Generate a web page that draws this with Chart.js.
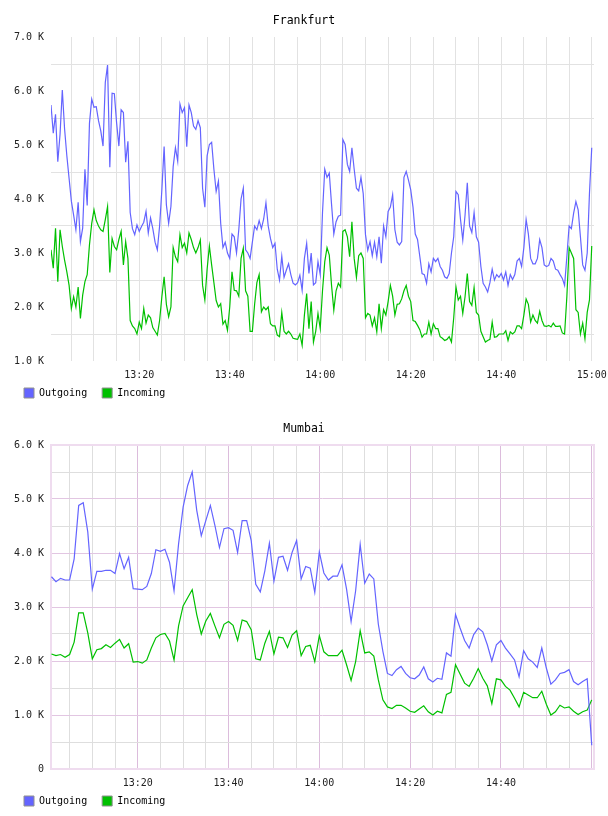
<!DOCTYPE html>
<html><head><meta charset="utf-8">
<script src="https://cdn.jsdelivr.net/npm/chart.js@4.4.1/dist/chart.umd.min.js"></script>
<style>
html,body{margin:0;padding:0;background:#fff;overflow:hidden;width:608px;height:816px;}
.box{position:absolute;left:0;width:608px;height:408px;}
</style></head><body>
<div class="box" style="top:0"><canvas id="fra"></canvas></div>
<div class="box" style="top:408px"><canvas id="mum"></canvas></div>
<script>
// ---- Frankfurt: samples every 30 s starting 13:00:30 (values in K) ----
const fraStartMin = 0.5;   // minutes after 13:00
const fraStepMin = 0.5;
const fraOutgoing = [
5.74,5.22,5.57,4.69,5.2,6.02,5.3,4.8,4.38,3.96,
3.7,3.43,3.94,3.21,3.46,4.55,3.88,5.4,5.85,5.7,
5.71,5.45,5.26,4.98,6.16,6.48,4.59,5.96,5.95,5.41,
4.98,5.65,5.6,4.68,5.07,3.75,3.45,3.34,3.52,3.4,
3.49,3.57,3.77,3.37,3.65,3.45,3.2,3.06,3.5,4.17,
4.97,3.89,3.55,3.86,4.6,4.95,4.7,5.76,5.6,5.69,
4.97,5.74,5.6,5.35,5.29,5.45,5.32,4.2,3.85,4.8,
5.01,5.05,4.55,4.14,4.33,3.55,3.1,3.2,3.0,2.9,
3.35,3.3,3.0,3.43,4.0,4.2,3.06,3.0,2.9,3.2,
3.5,3.43,3.6,3.45,3.63,3.93,3.5,3.27,3.1,3.18,
2.7,2.5,2.94,2.55,2.68,2.8,2.6,2.44,2.41,2.45,
2.59,2.31,2.9,3.18,2.62,3.0,2.41,2.45,2.84,2.6,
3.75,4.55,4.4,4.48,3.9,3.35,3.58,3.68,3.7,5.1,
5.01,4.64,4.51,4.95,4.55,4.2,4.15,4.4,4.1,3.34,
3.05,3.21,2.95,3.2,2.93,3.3,2.81,3.5,3.3,3.77,
3.85,4.08,3.43,3.2,3.15,3.21,4.4,4.51,4.35,4.17,
3.85,3.35,3.25,2.94,2.62,2.6,2.44,2.8,2.65,2.9,
2.84,2.9,2.75,2.68,2.56,2.53,2.62,3.0,3.3,4.14,
4.08,3.62,3.24,3.7,4.3,3.5,3.38,3.75,3.3,3.2,
2.75,2.44,2.37,2.28,2.45,2.7,2.5,2.6,2.55,2.62,
2.5,2.65,2.4,2.6,2.51,2.6,2.85,2.9,2.75,3.1,
3.62,3.35,2.9,2.8,2.8,2.9,3.25,3.1,2.78,2.75,
2.77,2.9,2.85,2.7,2.68,2.6,2.53,2.4,2.93,3.5,
3.45,3.74,3.95,3.8,3.3,2.78,2.68,3.0,4.11,4.95
];
const fraIncoming = [
3.06,2.72,3.46,2.47,3.43,3.12,2.87,2.65,2.4,1.97,
2.19,2.0,2.37,1.79,2.22,2.47,2.6,3.15,3.55,3.8,
3.6,3.5,3.43,3.4,3.62,3.86,2.64,3.27,3.12,3.06,
3.25,3.4,2.78,3.21,2.9,1.75,1.65,1.6,1.5,1.72,
1.6,1.97,1.7,1.85,1.8,1.62,1.55,1.48,1.75,2.19,
2.56,2.05,1.82,2.0,3.1,2.93,2.84,3.34,3.1,3.18,
3.0,3.37,3.25,3.1,3.0,3.1,3.24,2.4,2.13,2.7,
3.13,2.78,2.45,2.12,2.0,2.06,1.68,1.75,1.57,2.0,
2.65,2.31,2.3,2.2,2.9,3.09,2.3,2.2,1.55,1.55,
2.05,2.45,2.6,1.91,2.0,1.95,2.0,1.69,1.65,1.65,
1.48,1.45,1.9,1.55,1.5,1.55,1.5,1.42,1.41,1.4,
1.5,1.29,1.85,2.25,1.6,2.1,1.35,1.55,1.88,1.6,
2.3,2.84,3.1,2.96,2.4,1.94,2.3,2.44,2.37,3.4,
3.43,3.3,2.93,3.58,2.9,2.55,2.95,3.0,2.9,1.8,
1.88,1.85,1.65,1.8,1.54,2.06,1.6,1.95,1.85,2.1,
2.4,2.2,1.85,2.05,2.06,2.15,2.3,2.4,2.2,2.1,
1.75,1.73,1.66,1.58,1.44,1.5,1.5,1.72,1.5,1.69,
1.6,1.6,1.45,1.42,1.38,1.4,1.45,1.35,1.8,2.37,
2.13,2.2,1.88,2.19,2.62,2.1,2.03,2.36,1.9,1.85,
1.55,1.45,1.35,1.38,1.4,1.72,1.44,1.45,1.5,1.5,
1.5,1.56,1.38,1.54,1.5,1.54,1.65,1.65,1.6,1.85,
2.15,2.05,1.72,1.85,1.75,1.7,1.92,1.75,1.65,1.64,
1.66,1.63,1.7,1.64,1.64,1.65,1.52,1.5,2.19,3.1,
3.0,2.9,1.95,1.9,1.5,1.7,1.41,1.9,2.13,3.13
];
const fraTimeLabels = ['13:20','13:40','14:00','14:20','14:40','15:00'];

// ---- Mumbai: samples every minute starting 13:01 (values in K) ----
const mumStartMin = 1;
const mumStepMin = 1;
const mumOutgoing = [
3.56,3.47,3.53,3.5,3.5,3.89,4.88,4.93,4.39,3.33,
3.66,3.66,3.68,3.68,3.62,3.99,3.71,3.92,3.34,3.33,
3.32,3.38,3.62,4.06,4.03,4.07,3.83,3.3,4.17,4.85,
5.25,5.5,4.79,4.32,4.6,4.88,4.51,4.1,4.45,4.47,
4.42,4.01,4.6,4.6,4.23,3.42,3.28,3.67,4.18,3.48,
3.92,3.94,3.68,4.01,4.23,3.52,3.75,3.72,3.27,4.02,
3.63,3.5,3.57,3.57,3.78,3.33,2.73,3.3,4.16,3.44,
3.61,3.52,2.68,2.18,1.77,1.73,1.84,1.9,1.77,1.69,
1.67,1.74,1.89,1.67,1.61,1.68,1.66,2.15,2.09,2.86,
2.61,2.38,2.24,2.49,2.61,2.54,2.3,2.0,2.3,2.38,
2.24,2.13,2.02,1.71,2.19,2.04,1.98,1.88,2.24,1.87,
1.57,1.65,1.77,1.79,1.84,1.62,1.56,1.62,1.67,0.44
];
const mumIncoming = [
2.13,2.1,2.12,2.07,2.12,2.35,2.89,2.89,2.52,2.04,
2.21,2.23,2.3,2.25,2.33,2.4,2.24,2.32,1.98,1.99,
1.96,2.02,2.24,2.43,2.49,2.51,2.37,2.02,2.65,3.02,
3.17,3.32,2.86,2.5,2.74,2.88,2.65,2.43,2.68,2.73,
2.66,2.38,2.76,2.73,2.58,2.04,2.02,2.33,2.55,2.13,
2.44,2.43,2.25,2.48,2.56,2.1,2.27,2.29,1.99,2.47,
2.17,2.1,2.1,2.1,2.2,1.93,1.64,1.99,2.56,2.15,
2.17,2.09,1.65,1.28,1.15,1.12,1.18,1.18,1.13,1.07,
1.05,1.11,1.17,1.06,1.0,1.07,1.04,1.38,1.42,1.93,
1.76,1.59,1.53,1.68,1.86,1.68,1.54,1.21,1.67,1.65,
1.53,1.46,1.31,1.15,1.42,1.37,1.32,1.32,1.44,1.2,
1.0,1.06,1.18,1.13,1.15,1.07,1.01,1.06,1.09,1.28
];
const mumTimeLabels = ['13:20','13:40','14:00','14:20','14:40'];

const seriesNames = ['Outgoing', 'Incoming'];
const seriesColors = ['#6464ff', '#00c000'];
const MONO = '"DejaVu Sans Mono", monospace';

function toPoints(vals, start, step) {
  return vals.map((v, i) => ({ x: start + i * step, y: v }));
}

const plotBorder = {
  id: 'plotBorder',
  beforeDatasetsDraw(chart, args, opts) {
    if (!opts.color) return;
    const a = chart.chartArea, c = chart.ctx;
    c.save();
    c.strokeStyle = opts.color;
    c.lineWidth = 2;
    c.strokeRect(a.left, a.top, a.right - a.left, a.bottom - a.top);
    c.restore();
  }
};

function makeChart(id, cfg) {
  const isInt = v => Math.abs(v - Math.round(v)) < 1e-6;
  return new Chart(document.getElementById(id), {
    type: 'line',
    data: {
      datasets: [
        { label: seriesNames[0], data: toPoints(cfg.out, cfg.start, cfg.step),
          borderColor: seriesColors[0], backgroundColor: seriesColors[0],
          borderWidth: 1.2, pointRadius: 0, tension: 0, fill: false },
        { label: seriesNames[1], data: toPoints(cfg.inc, cfg.start, cfg.step),
          borderColor: seriesColors[1], backgroundColor: seriesColors[1],
          borderWidth: 1.2, pointRadius: 0, tension: 0, fill: false }
      ]
    },
    options: {
      responsive: true, maintainAspectRatio: false, animation: false,
      devicePixelRatio: 1,
      layout: { padding: { left: 9, right: 9, top: 0, bottom: 0 } },
      plugins: {
        tooltip: { enabled: false },
        plotBorder: { color: cfg.borderColor },
        title: { display: true, text: cfg.title, color: '#000',
          font: { family: MONO, size: 11.5, weight: 'normal' },
          padding: { top: 14, bottom: 9.2 } },
        legend: { position: 'bottom', align: 'start',
          labels: { boxWidth: 10, boxHeight: 10, padding: 15, color: '#000',
            font: { family: MONO, size: 10 },
            generateLabels: (chart) => chart.data.datasets.map((ds, i) => ({
              text: ds.label, fillStyle: ds.borderColor, strokeStyle: '#909090',
              lineWidth: 1, hidden: false, datasetIndex: i, fontColor: '#000'
            })) } }
      },
      scales: {
        x: { type: 'linear', min: cfg.xMin, max: cfg.xMax,
          afterFit: s => { s.height = 12; s.paddingRight = 14; s.paddingLeft = 0; },
          afterBuildTicks: s => {
            const t = [];
            for (let m = 5; m <= 120; m += 5) t.push({ value: m });
            s.ticks = t;
          },
          border: { display: false },
          grid: { drawTicks: false, lineWidth: 1,
            color: c => cfg.vMajor && c.tick && c.tick.value % 20 === 0 ? cfg.vMajor : cfg.minor },
          ticks: { autoSkip: false, maxRotation: 0, mirror: true, padding: -20, color: '#222',
            font: { family: MONO, size: 10 },
            callback: v => (v % 20 === 0 && cfg.labels[v / 20 - 1]) ? cfg.labels[v / 20 - 1] : '' } },
        y: { min: cfg.yMin, max: cfg.yMax,
          afterFit: s => { s.width = 42; },
          border: { display: false },
          grid: { drawTicks: false, lineWidth: 1,
            color: c => isInt(c.tick.value) ? cfg.hMajor : cfg.minor },
          ticks: { stepSize: 0.5, autoSkip: false, padding: 7, color: '#222',
            font: { family: MONO, size: 10 },
            callback: v => isInt(v) ? (v === 0 ? '0' : v.toFixed(1) + ' K') : '' } }
      }
    },
    plugins: [plotBorder]
  });
}

makeChart('fra', { title: 'Frankfurt', out: fraOutgoing, inc: fraIncoming,
  start: fraStartMin, step: fraStepMin, xMin: 0.5, xMax: 120.5, yMin: 1, yMax: 7,
  labels: fraTimeLabels, minor: '#e2e2e2', hMajor: 'rgba(0,0,0,0)', vMajor: null, borderColor: null });
makeChart('mum', { title: 'Mumbai', out: mumOutgoing, inc: mumIncoming,
  start: mumStartMin, step: mumStepMin, xMin: 0.9, xMax: 120.5, yMin: 0, yMax: 6,
  labels: mumTimeLabels, minor: '#dedede', hMajor: '#e2c6e2', vMajor: '#dcbcdc', borderColor: '#efdcef' });
</script>
</body></html>
